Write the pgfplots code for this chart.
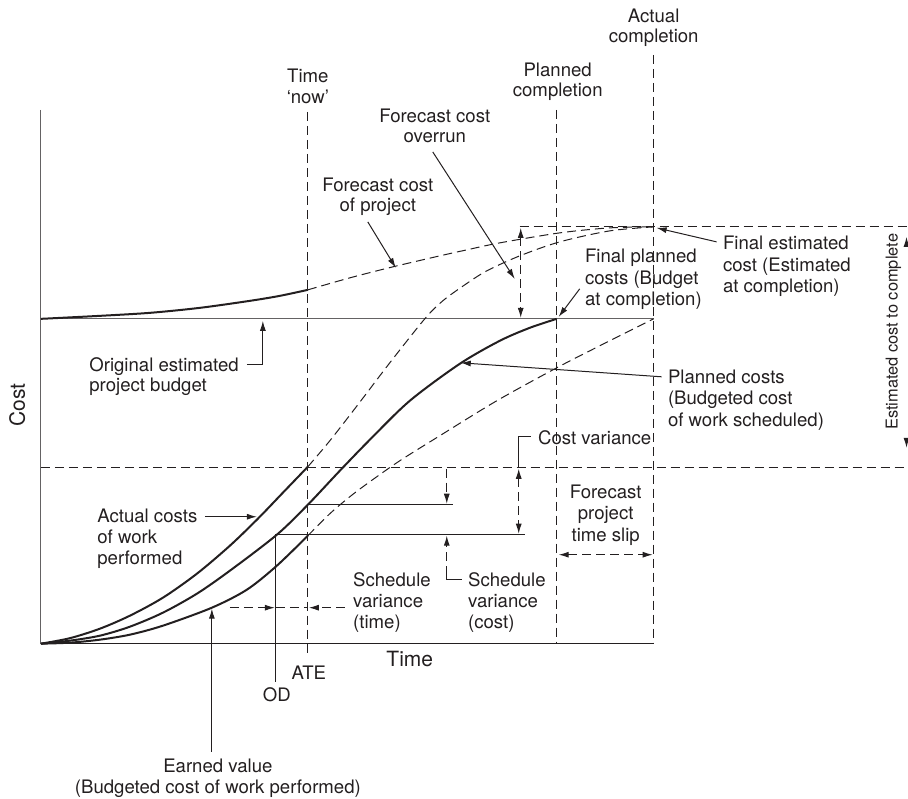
\documentclass[border=0pt]{standalone}
\usepackage{pgfplots}
\pgfplotsset{compat=1.18}
\usepackage{fontspec}
\setmainfont{TeX Gyre Heros}
\usetikzlibrary{arrows.meta}
\definecolor{ink}{HTML}{231F20}
\begin{document}
\begin{tikzpicture}[
 >={Latex[length=5pt,width=3pt]},
 lab/.style={font=\fontsize{9.3}{10.6}\selectfont, text=ink, inner sep=0pt},
 big/.style={font=\fontsize{10.5}{12}\selectfont, text=ink, inner sep=0pt},
 sml/.style={font=\fontsize{8.2}{10}\selectfont, text=ink, inner sep=0pt},
 ln/.style={ink, line width=0.5pt},
 dsh/.style={ink, line width=0.5pt, dash pattern=on 4.5pt off 2.5pt},
 thk/.style={ink, line width=1pt},
]
\begin{axis}[
 width=454pt, height=399.5pt, scale only axis,
 xmin=0, xmax=908, ymin=0, ymax=799, y dir=reverse,
 hide axis, clip=false,
]
\path (axis cs:0,0) rectangle (axis cs:908,799);
% axes
\addplot[ln, gray!70!ink] coordinates {(41,110) (41,644)};
\addplot[ln] coordinates {(41,644) (654,644)};
% reference lines
\addplot[ln, gray!70!ink] coordinates {(41,319) (654,319)};
\addplot[dsh] coordinates {(308,112) (308,658)};
\addplot[dsh] coordinates {(557,110) (557,644)};
\addplot[dsh] coordinates {(654,55) (654,644)};
\addplot[dsh] coordinates {(520,227) (908,227)};
\addplot[dsh] coordinates {(41,468) (908,468)};
% forecast cost of project
\addplot[thk, smooth] coordinates {(41,319) (100,316) (150,313) (200,308) (250,301) (280,296) (308,290)};
\addplot[dsh, smooth] coordinates {(308,290) (350,278) (393,267) (440,256) (467,250) (500,243) (560,233) (610,228) (654,227)};
% actual costs
\addplot[thk, smooth] coordinates {(41,644) (70,638.5) (100,629) (130,616) (163,598) (197,574) (230,546) (258,519) (283,493) (308,467)};
\addplot[dsh, smooth] coordinates {(308,467) (330,441) (358,405) (390,363) (425,319) (443,301) (465,285) (487,271) (520,256) (560,242) (610,231) (654,227)};
% planned costs
\addplot[thk, smooth] coordinates {(41,644) (70,641) (100,636) (130,627) (163,613) (197,594) (230,571) (277,535) (308,505) (340,471) (370,440) (410,401) (460,364) (500,341) (530,328) (557,319)};
% earned value
\addplot[thk, smooth] coordinates {(41,644) (70,643) (100,640) (130,635) (163,626) (212,608) (247,590) (277,566) (308,536)};
\addplot[dsh, smooth] coordinates {(308,536) (330,514) (350,497) (370,482) (400,461) (440,436) (497,401) (557,368) (600,346) (654,319)};
% variance lines
\addplot[ln] coordinates {(308,505) (453,505)};
\addplot[ln] coordinates {(276,682) (276,535) (525,535)};
% arrows
\draw[ln,->] (axis cs:433,152) -- (axis cs:515,279);
\draw[dsh,<->] (axis cs:521,228) -- (axis cs:521,318);
\draw[ln,->] (axis cs:368,222) -- (axis cs:396,268);
\draw[ln,->] (axis cs:247,365) -- (axis cs:263,365) -- (axis cs:263,321);
\draw[ln,->] (axis cs:717,242) -- (axis cs:657,228);
\draw[ln,->] (axis cs:580,289) -- (axis cs:559,317);
\draw[ln,->] (axis cs:662,377) -- (axis cs:461,363);
\draw[ln] (axis cs:531,437) -- (axis cs:519,437) -- (axis cs:519,468);
\draw[dsh,<->] (axis cs:519,469) -- (axis cs:519,534);
\draw[dsh,->] (axis cs:447,469) -- (axis cs:447,504);
\draw[dsh,->] (axis cs:447,575) -- (axis cs:447,536);
\draw[ln] (axis cs:447,572) -- (axis cs:447,580) -- (axis cs:462,580);
\draw[dsh,->] (axis cs:230,608) -- (axis cs:275,608);
\draw[dsh] (axis cs:276,608) -- (axis cs:308,608);
\draw[dsh,->] (axis cs:345,608) -- (axis cs:309,608);
\draw[ln,->] (axis cs:205,517) -- (axis cs:257,517);
\draw[ln,->] (axis cs:212,752) -- (axis cs:212,609);
\draw[dsh,<->] (axis cs:559,555) -- (axis cs:653,555);
\draw[ln,->,overlay] (axis cs:907,242) -- (axis cs:907,237);
\draw[ln,->,overlay] (axis cs:907,443) -- (axis cs:907,448);
% labels
\node[lab,anchor=base] at (axis cs:308,83) {Time};
\node[lab,anchor=base] at (axis cs:308,104) {‘now’};
\node[lab,anchor=base] at (axis cs:558,77) {Planned};
\node[lab,anchor=base] at (axis cs:558,97) {completion};
\node[lab,anchor=base] at (axis cs:654,23) {Actual};
\node[lab,anchor=base] at (axis cs:654,43) {completion};
\node[lab,anchor=base] at (axis cs:435,123) {Forecast cost};
\node[lab,anchor=base] at (axis cs:435,143) {overrun};
\node[lab,anchor=base] at (axis cs:378,192) {Forecast cost};
\node[lab,anchor=base] at (axis cs:378,212) {of project};
\node[lab,anchor=base west] at (axis cs:89,372) {Original estimated};
\node[lab,anchor=base west] at (axis cs:89,392) {project budget};
\node[lab,anchor=base west] at (axis cs:723,250) {Final estimated};
\node[lab,anchor=base west] at (axis cs:723,272) {cost (Estimated};
\node[lab,anchor=base west] at (axis cs:723,293) {at completion)};
\node[lab,anchor=base west] at (axis cs:585,263) {Final planned};
\node[lab,anchor=base west] at (axis cs:585,285) {costs (Budget};
\node[lab,anchor=base west] at (axis cs:585,306) {at completion)};
\node[lab,anchor=base west] at (axis cs:668,384) {Planned costs};
\node[lab,anchor=base west] at (axis cs:668,405) {(Budgeted cost};
\node[lab,anchor=base west] at (axis cs:668,427) {of work scheduled)};
\node[lab,anchor=base west] at (axis cs:538,445) {Cost variance};
\node[lab,anchor=base] at (axis cs:606,499) {Forecast};
\node[lab,anchor=base] at (axis cs:606,520) {project};
\node[lab,anchor=base] at (axis cs:606,542) {time slip};
\node[lab,anchor=base west] at (axis cs:468,587) {Schedule};
\node[lab,anchor=base west] at (axis cs:468,608) {variance};
\node[lab,anchor=base west] at (axis cs:468,629) {(cost)};
\node[lab,anchor=base west] at (axis cs:353,587) {Schedule};
\node[lab,anchor=base west] at (axis cs:353,608) {variance};
\node[lab,anchor=base west] at (axis cs:353,629) {(time)};
\node[lab,anchor=base west] at (axis cs:97,523) {Actual costs};
\node[lab,anchor=base west] at (axis cs:97,544) {of work};
\node[lab,anchor=base west] at (axis cs:97,565) {performed};
\node[big,anchor=base] at (axis cs:410,667) {Time};
\node[lab,anchor=base] at (axis cs:309,680) {ATE};
\node[lab,anchor=base] at (axis cs:277,702) {OD};
\node[lab,anchor=base] at (axis cs:218,773) {Earned value};
\node[lab,anchor=base] at (axis cs:218,794) {(Budgeted cost of work performed)};
\node[big,anchor=base,rotate=90] at (axis cs:25,405) {Cost};
\node[sml,anchor=base,rotate=90] at (axis cs:898,332) {Estimated cost to complete};
\end{axis}
\end{tikzpicture}
\end{document}
